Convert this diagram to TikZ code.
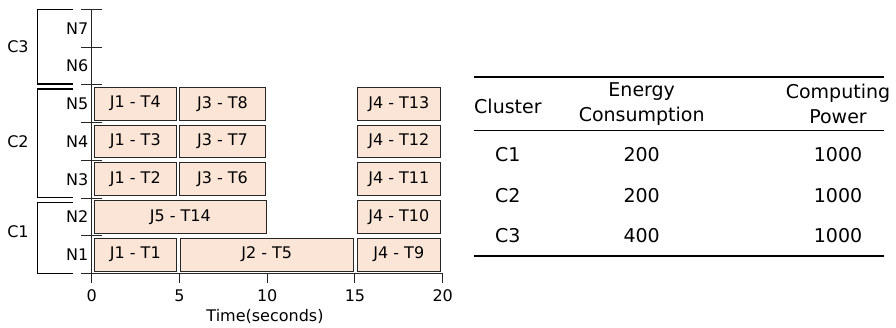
\documentclass[tikz,border=0pt]{standalone}
\usepackage{fontspec}
\setmainfont{DejaVu Sans}
\definecolor{taskfill}{HTML}{FBE5D6}
\begin{document}
\begin{tikzpicture}[x=1pt,y=-1pt,
  lbl/.style={font=\fontsize{16}{19}\selectfont, inner sep=0pt},
  tbl/.style={font=\fontsize{19}{25}\selectfont, inner sep=0pt, align=center},
  task/.style={draw=black!85, fill=taskfill, line width=0.8pt, inner sep=0pt, outer sep=0pt,
    anchor=north west, minimum height=32.7pt, font=\fontsize{16}{19}\selectfont},
  axis/.style={line width=1pt, black!85},
  brk/.style={line width=1.2pt, black},
  rule/.style={line width=1.8pt, black}]
\useasboundingbox (0,0) rectangle (896,327);

% axes
\coordinate (ytop) at (91.7,9.5);
\coordinate (orig) at (91.7,273.4);
\coordinate (xend) at (442.7,273.4);
\draw[axis] (ytop) -- (orig) -- (xend);

% y ticks and node labels
\foreach \i/\b in {0/9.5,1/47.2,2/84.9,3/122.6,4/160.3,5/198.0,6/235.7,7/273.4}{
  \coordinate (yl\i) at (81,\b);
  \coordinate (yr\i) at (102,\b);
  \draw[axis] (yl\i) -- (yr\i);
}
\foreach \n/\y in {N7/28.4,N6/66.1,N5/103.8,N4/141.5,N3/179.2,N2/216.9,N1/254.6}{
  \node[lbl, anchor=east] (\n) at (88.5,\y) {\n};
}

% x ticks
\foreach \t in {0,5,10,15,20}{
  \coordinate (xt\t) at (91.7+17.55*\t,273.4);
  \coordinate (xb\t) at (91.7+17.55*\t,283);
  \draw[axis] (xt\t) -- (xb\t);
  \node[lbl] (xl\t) at (91.7+17.55*\t,296) {\t};
}
\node[lbl] (xlabel) at (265,316) {Time(seconds)};

% cluster brackets
\coordinate (c3a) at (73,9.5);  \coordinate (c3b) at (37.3,9.5);
\coordinate (c3c) at (37.3,84); \coordinate (c3d) at (73,84);
\draw[brk] (c3a) -- (c3b) -- (c3c) -- (c3d);
\coordinate (c2a) at (73,89);  \coordinate (c2b) at (37.3,89);
\coordinate (c2c) at (37.3,197.7); \coordinate (c2d) at (73,197.7);
\draw[brk] (c2a) -- (c2b) -- (c2c) -- (c2d);
\coordinate (c1a) at (73,202.7);  \coordinate (c1b) at (37.3,202.7);
\coordinate (c1c) at (37.3,273.4); \coordinate (c1d) at (73,273.4);
\draw[brk] (c1a) -- (c1b) -- (c1c) -- (c1d);
\node[lbl] (C3) at (18,47) {C3};
\node[lbl] (C2) at (18,142) {C2};
\node[lbl] (C1) at (18,232) {C1};

% tasks
\node[task, minimum width=82pt]   (t4)  at (94.3,87.4)  {J1 - T4};
\node[task, minimum width=86.4pt] (t8)  at (179.3,87.4) {J3 - T8};
\node[task, minimum width=83pt]   (t13) at (357.3,87.4) {J4 - T13};
\node[task, minimum width=82pt]   (t3)  at (94.3,125.1) {J1 - T3};
\node[task, minimum width=86.4pt] (t7)  at (179.3,125.1) {J3 - T7};
\node[task, minimum width=83pt]   (t12) at (357.3,125.1) {J4 - T12};
\node[task, minimum width=82pt]   (t2)  at (94.3,162.8) {J1 - T2};
\node[task, minimum width=86.4pt] (t6)  at (179.3,162.8) {J3 - T6};
\node[task, minimum width=83pt]   (t11) at (357.3,162.8) {J4 - T11};
\node[task, minimum width=172pt]  (t14) at (94.3,200.5) {J5 - T14};
\node[task, minimum width=83pt]   (t10) at (357.3,200.5) {J4 - T10};
\node[task, minimum width=82pt]   (t1)  at (94.3,238.2) {J1 - T1};
\node[task, minimum width=173.5pt](t5)  at (180,238.2)  {J2 - T5};
\node[task, minimum width=83pt]   (t9)  at (357.3,238.2) {J4 - T9};

% table
\coordinate (r1a) at (474,76.7);  \coordinate (r1b) at (884,76.7);
\coordinate (r2a) at (474,130.7); \coordinate (r2b) at (884,130.7);
\coordinate (r3a) at (474,256);   \coordinate (r3b) at (884,256);
\draw[rule] (r1a) -- (r1b);
\draw[rule, line width=1.4pt] (r2a) -- (r2b);
\draw[rule] (r3a) -- (r3b);
\node[tbl, anchor=west] (hcl) at (474,106.7) {Cluster};
\node[tbl] (hen) at (641.7,104.2) {Energy\\Consumption};
\node[tbl] (hcp) at (838,104.2) {Computing\\Power};
\foreach \c/\e/\y in {C1/200/155,C2/200/196,C3/400/236}{
  \node[tbl] (r\c) at (507.7,\y) {\c};
  \node[tbl] (e\c) at (641.7,\y) {\e};
  \node[tbl] (p\c) at (838,\y) {1000};
}
\end{tikzpicture}
\end{document}
